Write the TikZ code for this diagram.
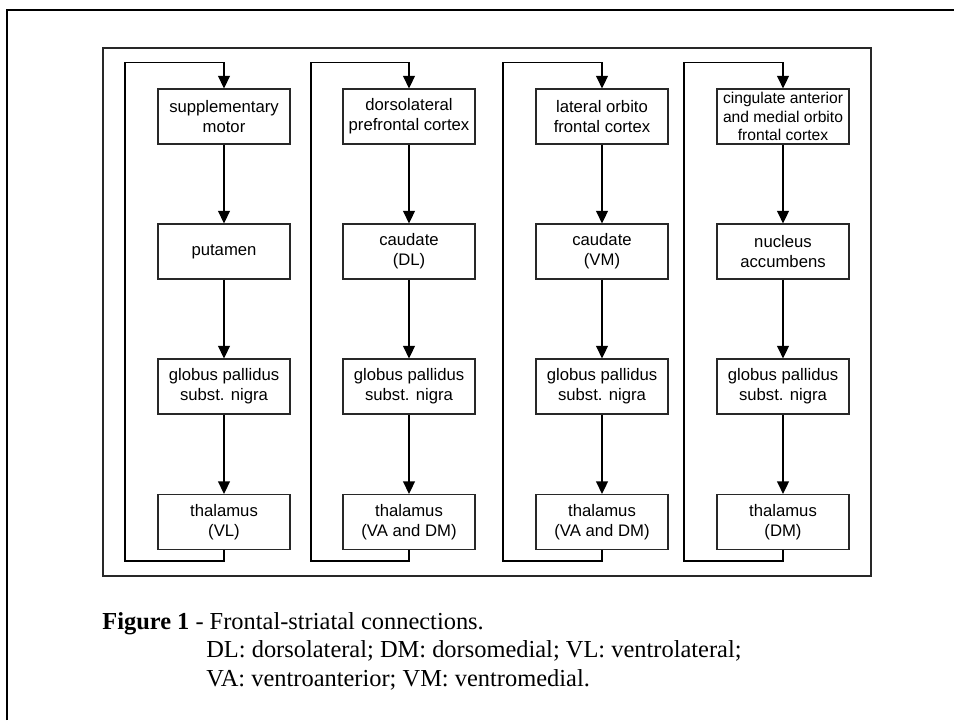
\documentclass[tikz,border=0pt]{standalone}
\usepackage{fontspec}
\setmainfont{Liberation Serif}
\setsansfont{Liberation Sans}
\usepackage{tikz}
\usetikzlibrary{arrows.meta, positioning, calc}
\definecolor{lineGray}{RGB}{40, 40, 40}

\begin{document}
\begin{tikzpicture}[
  area/.style={draw=lineGray, fill=white, line width=0.75pt,
               minimum width=2.64cm, minimum height=1.1cm, inner sep=1pt,
               align=center, font=\sffamily\fontsize{9.5}{11.4}\selectfont},
  flow/.style={->, draw=black, line width=0.75pt},
  caption/.style={anchor=base west, inner sep=0pt,
                  font=\fontsize{13.9}{16.2}\selectfont},
  >={Triangle[length=0.25cm, width=0.24cm]}
]
  \useasboundingbox (0,0) rectangle (19.08,-14.4);

  % Frames
  \draw[line width=1.15pt] (0.14,-14.4) -- (0.14,-0.2) -- (19.08,-0.2);
  \draw[lineGray, line width=0.75pt] (2.06,-0.96) rectangle (17.42,-11.52);

  % Column 1: motor loop
  \node[area] (sma) at (4.48, -2.33)  {supplementary\\motor};
  \node[area] (put) at (4.48, -5.03)  {putamen};
  \node[area] (gp1) at (4.48, -7.73)  {globus pallidus\\subst. nigra};
  \node[area] (th1) at (4.48, -10.44) {thalamus\\(VL)};

  % Column 2: dorsolateral prefrontal loop
  \node[area] (dlpfc) at (8.18, -2.33)  {dorsolateral\\prefrontal cortex};
  \node[area] (cdl)   at (8.18, -5.03)  {caudate\\(DL)};
  \node[area] (gp2)   at (8.18, -7.73)  {globus pallidus\\subst. nigra};
  \node[area] (th2)   at (8.18, -10.44) {thalamus\\(VA and DM)};

  % Column 3: lateral orbitofrontal loop
  \node[area] (lofc) at (12.04, -2.33)  {lateral orbito\\frontal cortex};
  \node[area] (cvm)  at (12.04, -5.03)  {caudate\\(VM)};
  \node[area] (gp3)  at (12.04, -7.73)  {globus pallidus\\subst. nigra};
  \node[area] (th3)  at (12.04, -10.44) {thalamus\\(VA and DM)};

  % Column 4: anterior cingulate loop
  \node[area, inner sep=0pt, font=\sffamily\fontsize{8.9}{10.6}\selectfont]
    (acc) at (15.66, -2.33) {cingulate anterior\\and medial orbito\\frontal cortex};
  \node[area] (nac) at (15.66, -5.03)  {nucleus\\accumbens};
  \node[area] (gp4) at (15.66, -7.73)  {globus pallidus\\subst. nigra};
  \node[area] (th4) at (15.66, -10.44) {thalamus\\(DM)};

  % Loop corners
  \coordinate (b1) at (2.5,   -11.22);  \coordinate (t1) at (2.5,   -1.25);
  \coordinate (b2) at (6.22,  -11.22);  \coordinate (t2) at (6.22,  -1.25);
  \coordinate (b3) at (10.06, -11.22);  \coordinate (t3) at (10.06, -1.25);
  \coordinate (b4) at (13.68, -11.22);  \coordinate (t4) at (13.68, -1.25);

  % Downward flow
  \draw[flow] (sma) -- (put);   \draw[flow] (put) -- (gp1);  \draw[flow] (gp1) -- (th1);
  \draw[flow] (dlpfc) -- (cdl); \draw[flow] (cdl) -- (gp2);  \draw[flow] (gp2) -- (th2);
  \draw[flow] (lofc) -- (cvm);  \draw[flow] (cvm) -- (gp3);  \draw[flow] (gp3) -- (th3);
  \draw[flow] (acc) -- (nac);   \draw[flow] (nac) -- (gp4);  \draw[flow] (gp4) -- (th4);

  % Feedback loops
  \draw[flow] (th1.south) |- (b1) -- (t1) -| (sma.north);
  \draw[flow] (th2.south) |- (b2) -- (t2) -| (dlpfc.north);
  \draw[flow] (th3.south) |- (b3) -- (t3) -| (lofc.north);
  \draw[flow] (th4.south) |- (b4) -- (t4) -| (acc.north);

  % Caption
  \node[caption] (cap1) at (2.04, -12.58)
    {\textbf{Figure 1} - Frontal-striatal connections.};
  \node[caption] (cap2) at (4.12, -13.14)
    {DL: dorsolateral; DM: dorsomedial; VL: ventrolateral;};
  \node[caption] (cap3) at (4.12, -13.72)
    {VA: ventroanterior; VM: ventromedial.};

\end{tikzpicture}
\end{document}
